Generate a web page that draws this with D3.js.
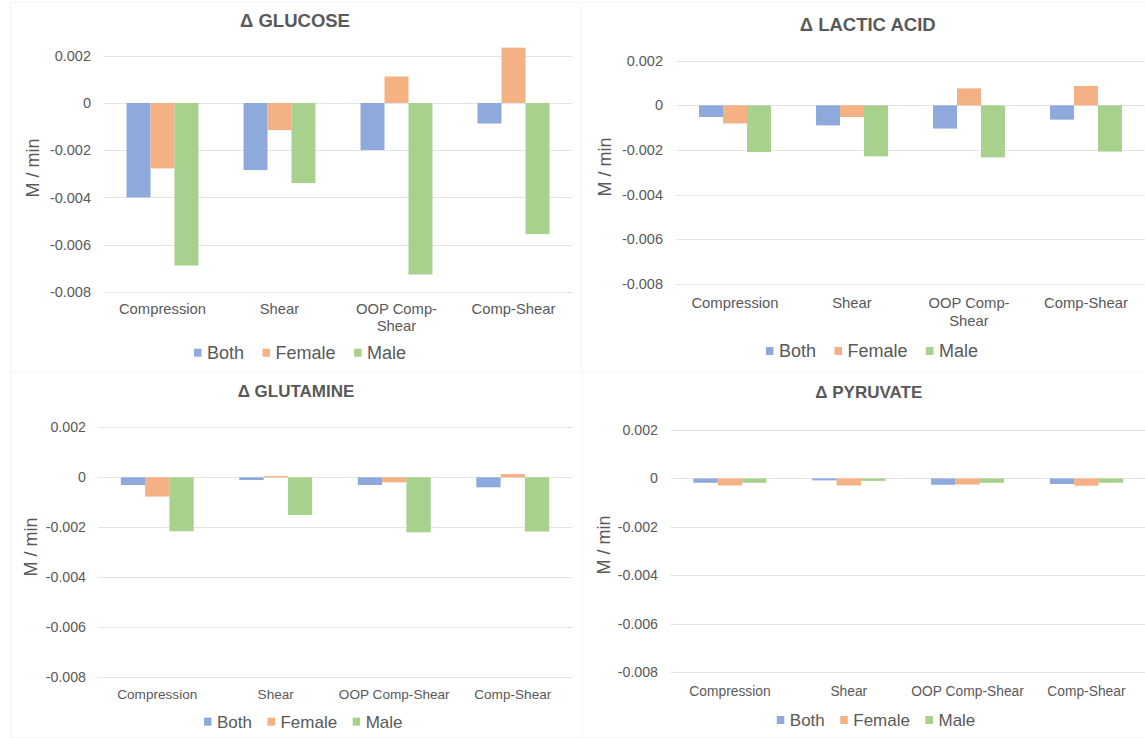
<!DOCTYPE html>
<html>
<head>
<meta charset="utf-8">
<script src="https://cdn.jsdelivr.net/npm/d3@7/dist/d3.min.js"></script>
<style>
  html, body { margin: 0; padding: 0; background: #ffffff; }
  svg { display: block; font-family: "Liberation Sans", Arial, Helvetica, sans-serif; }
</style>
</head>
<body>
<svg id="chart" width="1145" height="738"></svg>
<script>
// Shared categories, series and axis ticks
const categories = ["Compression", "Shear", "OOP Comp-Shear", "Comp-Shear"];
const seriesNames = ["Both", "Female", "Male"];
const seriesColors = ["#8eaadc", "#f4b183", "#a9d18e"];
const yTicks = [0.002, 0, -0.002, -0.004, -0.006, -0.008];
const yLabel = "M / min";

// Δ Glucose (M / min)
const glucoseBoth   = [-0.00400, -0.00284, -0.00199, -0.00087];
const glucoseFemale = [-0.00277, -0.00115,  0.00112,  0.00234];
const glucoseMale   = [-0.00688, -0.00339, -0.00726, -0.00555];

// Δ Lactic acid (M / min)
const lacticBoth   = [-0.00052, -0.00090, -0.00104, -0.00064];
const lacticFemale = [-0.00081, -0.00052,  0.00076,  0.00087];
const lacticMale   = [-0.00209, -0.00228, -0.00233, -0.00207];

// Δ Glutamine (M / min)
const glutamineBoth   = [-0.00031, -0.00011, -0.00031, -0.00040];
const glutamineFemale = [-0.00077,  0.00005, -0.00020,  0.00013];
const glutamineMale   = [-0.00216, -0.00151, -0.00220, -0.00217];

// Δ Pyruvate (M / min)
const pyruvateBoth   = [-0.00018, -0.00008, -0.00026, -0.00023];
const pyruvateFemale = [-0.00029, -0.00029, -0.00025, -0.00030];
const pyruvateMale   = [-0.00018, -0.00010, -0.00018, -0.00018];

const svg = d3.select("#chart");
const textColor = "#595959";
const gridColor = "#e4e4e4";

// faint frames around the four chart boxes
const frames = [
  [10, 2, 571, 369], [581, 2, 570, 369],
  [10, 371, 572, 366], [582, 371, 570, 366]
];
svg.selectAll("rect.frame").data(frames).join("rect")
  .attr("class", "frame")
  .attr("x", d => d[0] + 0.5).attr("y", d => d[1] + 0.5)
  .attr("width", d => d[2]).attr("height", d => d[3])
  .attr("fill", "none").attr("stroke", "#f5f5f5");

const panels = [
  { title: "\u0394 GLUCOSE", values: [glucoseBoth, glucoseFemale, glucoseMale],
    x0: 104, x1: 572, yTop: 55.7, yBot: 292, tickX: 91, ytX: 33, ytY: 168,
    titleX: 295, titleY: 27.3, catY: 309, lineH: 17, legX: 194, legY: 352.7,
    fTitle: 18.5, fTick: 14.5, fCat: 14.8, fLeg: 18, legGap: 18.5 },
  { title: "\u0394 LACTIC ACID", values: [lacticBoth, lacticFemale, lacticMale],
    x0: 676.5, x1: 1144.5, yTop: 60.7, yBot: 284, tickX: 663, ytX: 605, ytY: 167,
    titleX: 867.7, titleY: 30.5, catY: 303, lineH: 18, legX: 766, legY: 351,
    fTitle: 18.5, fTick: 14.5, fCat: 14.8, fLeg: 18, legGap: 18.5 },
  { title: "\u0394 GLUTAMINE", values: [glutamineBoth, glutamineFemale, glutamineMale],
    x0: 98, x1: 572, yTop: 427.3, yBot: 677.3, tickX: 86, ytX: 31, ytY: 547,
    titleX: 296, titleY: 396.7, catY: 694, lineH: 17, legX: 204, legY: 721.7,
    fTitle: 17, fTick: 14.2, fCat: 13.6, fLeg: 17, legGap: 15.5 },
  { title: "\u0394 PYRUVATE", values: [pyruvateBoth, pyruvateFemale, pyruvateMale],
    x0: 670.6, x1: 1145.8, yTop: 430, yBot: 672.3, tickX: 658, ytX: 604, ytY: 545,
    titleX: 868.8, titleY: 398, catY: 690.7, lineH: 17, legX: 776.8, legY: 720,
    fTitle: 17, fTick: 14.2, fCat: 13.8, fLeg: 17, legGap: 15.5 }
];

const fmt = v => (Math.abs(v) < 1e-12 ? "0" : v.toFixed(3));

panels.forEach(p => {
  const g = svg.append("g");

  const x = d3.scaleBand().domain(categories).range([p.x0, p.x1]).paddingInner(0.385).paddingOuter(0.1925);
  const xs = d3.scaleBand().domain(seriesNames).range([0, x.bandwidth()]);
  const y = d3.scaleLinear().domain([-0.008, 0.002]).range([p.yBot, p.yTop]);

  // horizontal gridlines
  g.append("g").selectAll("line").data(yTicks).join("line")
    .attr("x1", p.x0).attr("x2", p.x1)
    .attr("y1", d => Math.round(y(d)) + 0.5).attr("y2", d => Math.round(y(d)) + 0.5)
    .attr("stroke", gridColor).attr("stroke-width", 1);

  // y tick labels
  g.append("g").selectAll("text").data(yTicks).join("text")
    .attr("x", p.tickX).attr("y", d => y(d)).attr("dy", "0.35em")
    .attr("text-anchor", "end").attr("fill", textColor)
    .style("font-size", p.fTick + "px").text(fmt);

  // bars
  const rows = [];
  p.values.forEach((arr, si) => arr.forEach((v, ci) =>
    rows.push({ cat: categories[ci], series: seriesNames[si], si, v })));
  g.append("g").selectAll("rect").data(rows).join("rect")
    .attr("x", d => x(d.cat) + xs(d.series))
    .attr("width", xs.bandwidth())
    .attr("y", d => Math.min(y(d.v), y(0)))
    .attr("height", d => Math.abs(y(d.v) - y(0)))
    .attr("fill", d => seriesColors[d.si]);

  // category labels, wrapped after a hyphen when wider than the band
  const catG = g.append("g");
  categories.forEach(c => {
    const t = catG.append("text")
      .attr("x", x(c) + x.bandwidth() / 2).attr("y", p.catY).attr("dy", "0.35em")
      .attr("text-anchor", "middle").attr("fill", textColor)
      .style("font-size", p.fCat + "px").text(c);
    if (t.node().getComputedTextLength() > x.step() && c.includes(" ")) {
      const cut = c.lastIndexOf("-") + 1;
      t.text(null);
      t.append("tspan").attr("x", x(c) + x.bandwidth() / 2).text(c.slice(0, cut));
      t.append("tspan").attr("x", x(c) + x.bandwidth() / 2).attr("dy", p.lineH).text(c.slice(cut));
    }
  });

  // y-axis title
  g.append("text")
    .attr("transform", `translate(${p.ytX},${p.ytY}) rotate(-90)`)
    .attr("dy", "0.35em").attr("text-anchor", "middle").attr("fill", textColor)
    .style("font-size", "18px").text(yLabel);

  // chart title
  g.append("text")
    .attr("x", p.titleX).attr("y", p.titleY)
    .attr("text-anchor", "middle").attr("fill", textColor)
    .style("font-size", p.fTitle + "px").style("font-weight", "bold").text(p.title);

  // legend
  const leg = g.append("g");
  let lx = p.legX;
  seriesNames.forEach((s, i) => {
    leg.append("rect").attr("x", lx).attr("y", p.legY - 4)
      .attr("width", 7.5).attr("height", 8).attr("fill", seriesColors[i]);
    const t = leg.append("text").attr("x", lx + 13).attr("y", p.legY).attr("dy", "0.35em")
      .attr("fill", textColor).style("font-size", p.fLeg + "px").text(s);
    lx += 13 + t.node().getComputedTextLength() + p.legGap;
  });
});
</script>
</body>
</html>
